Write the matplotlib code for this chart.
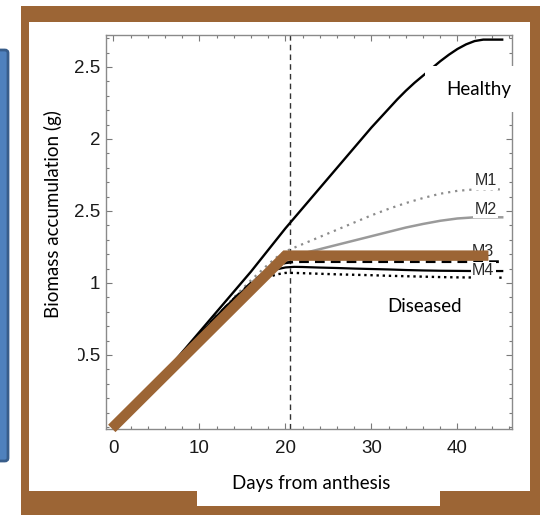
import numpy as np
import matplotlib
matplotlib.use("Agg")
import matplotlib.pyplot as plt
from matplotlib.patches import Rectangle, FancyBboxPatch
from matplotlib.ticker import MultipleLocator, FixedLocator, FixedFormatter

# ---- data -------------------------------------------------------------
healthy_days = [0, 2, 4, 6, 8, 10, 12, 14, 16, 18, 20, 22, 24, 26, 28, 30, 32,
                33, 34, 35, 36, 37, 38, 39, 40, 41, 42, 43, 45.2]
healthy = [0, 0.12, 0.25, 0.38, 0.52, 0.66, 0.80, 0.94, 1.08, 1.23, 1.38, 1.52,
           1.66, 1.80, 1.94, 2.08, 2.21, 2.275, 2.335, 2.39, 2.44, 2.49, 2.54,
           2.585, 2.625, 2.657, 2.68, 2.69, 2.69]

diseased_days = [0, 2, 4, 6, 8, 10, 12, 14, 16, 18, 19, 20, 21, 22, 24, 26, 28,
                 30, 32, 34, 36, 38, 40, 42, 45.2]
m1 = [0, 0.12, 0.25, 0.38, 0.51, 0.64, 0.77, 0.90, 1.02, 1.13, 1.18, 1.22, 1.245,
      1.27, 1.32, 1.37, 1.42, 1.47, 1.515, 1.555, 1.59, 1.62, 1.64, 1.65, 1.65]
m2 = [0, 0.12, 0.25, 0.38, 0.51, 0.64, 0.77, 0.89, 1.0, 1.10, 1.14, 1.17, 1.19,
      1.205, 1.235, 1.265, 1.295, 1.325, 1.355, 1.385, 1.41, 1.432, 1.448,
      1.456, 1.456]
m3 = [0, 0.12, 0.25, 0.38, 0.51, 0.64, 0.77, 0.89, 1.0, 1.09, 1.125, 1.14,
      1.147, 1.148, 1.148, 1.148, 1.148, 1.148, 1.148, 1.148, 1.148, 1.148,
      1.148, 1.148, 1.148]
m4 = [0, 0.12, 0.25, 0.38, 0.51, 0.64, 0.77, 0.89, 0.99, 1.07, 1.095, 1.108,
      1.112, 1.111, 1.107, 1.104, 1.10, 1.097, 1.094, 1.09, 1.087, 1.085,
      1.084, 1.083, 1.083]
m4_low = [0, 0.12, 0.25, 0.38, 0.51, 0.63, 0.76, 0.88, 0.98, 1.04, 1.06, 1.07,
          1.07, 1.068, 1.064, 1.06, 1.057, 1.054, 1.05, 1.047, 1.044, 1.041,
          1.039, 1.038, 1.037]

# simplified two-phase model drawn over the curves
model_days = [-0.2, 20.0, 43.6]
model_biomass = [-0.01, 1.19, 1.19]

cutoff_day = 20.5

x_ticks = [0, 10, 20, 30, 40]
x_tick_labels = ["0", "10", "20", "30", "40"]
y_ticks = [0.5, 1.0, 1.5, 2.0, 2.5]
y_tick_labels = ["0.5", "1", "2.5", "2", "2.5"]

series_labels = ["M1", "M2", "M3", "M4"]
series_label_pos = [(43.3, 1.71), (43.3, 1.51), (42.9, 1.22), (43.0, 1.087)]

# ---- figure -----------------------------------------------------------
W, H = 540, 515
fig = plt.figure(figsize=(W / 100, H / 100), dpi=100)
fig.patch.set_facecolor("white")

BROWN = "#9c6535"


def fx(px):
    return px / W


def fy(py):
    return 1 - py / H


def frect(x0, y0, x1, y1, **kw):
    r = Rectangle((fx(x0), fy(y1)), fx(x1) - fx(x0), fy(y0) - fy(y1),
                  transform=fig.transFigure, **kw)
    fig.add_artist(r)
    return r


# blue side panel
blue = FancyBboxPatch((fx(-20), fy(461)), fx(28), fy(50) - fy(461),
                      boxstyle="round,pad=0,rounding_size=0.006",
                      transform=fig.transFigure, facecolor="#4f81bd",
                      edgecolor="#385d8a", linewidth=2, zorder=-3)
fig.add_artist(blue)

# brown frame with white inner panel and white caption tab
frect(20.7, 6, 545, 520, facecolor=BROWN, edgecolor="none", zorder=-3)
frect(28.5, 21.5, 530, 491, facecolor="white", edgecolor="none", zorder=-2)
frect(196.5, 470, 440, 506, facecolor="white", edgecolor="none", zorder=-2)

# plot area
ax = fig.add_axes([fx(106), fy(429.3), fx(512) - fx(106), fy(35) - fy(429.3)])
ax.set_facecolor("none")
ax.set_xlim(-0.872, 46.34)
ax.set_ylim(-0.016, 2.722)

for s in ax.spines.values():
    s.set_color("#8a8a8a")
    s.set_linewidth(1.0)

ax.xaxis.set_major_locator(FixedLocator(x_ticks))
ax.xaxis.set_major_formatter(FixedFormatter(x_tick_labels))
ax.xaxis.set_minor_locator(MultipleLocator(2))
ax.yaxis.set_major_locator(FixedLocator(y_ticks))
ax.yaxis.set_major_formatter(FixedFormatter(y_tick_labels))
ax.yaxis.set_minor_locator(MultipleLocator(0.1))
ax.tick_params(which="both", direction="in", top=True, right=True,
               color="#7a7a7a", width=0.8)
ax.tick_params(which="major", length=4.5)
ax.tick_params(which="minor", length=2.2)
ax.tick_params(axis="x", which="major", pad=8, labelsize=13.5,
               labelcolor="#1a1a1a")
ax.tick_params(axis="y", which="major", pad=4, labelsize=13.5,
               labelcolor="#1a1a1a")
for lab in ax.get_xticklabels() + ax.get_yticklabels():
    lab.set_family("Liberation Sans")

ax.axvline(cutoff_day, color="#333333", lw=1.0, ls=(0, (4, 3)), zorder=1)

ax.plot(healthy_days, healthy, color="black", lw=1.7, zorder=3)
ax.plot(diseased_days, m1, color="#8c8c8c", lw=1.6, ls=(0, (1, 2.2)), zorder=2)
ax.plot(diseased_days, m2, color="#9a9a9a", lw=1.8, zorder=2)
ax.plot(diseased_days, m3, color="black", lw=2.0, ls=(0, (3.5, 2.2)), zorder=2)
ax.plot(diseased_days, m4, color="black", lw=1.6, zorder=2)
ax.plot(diseased_days, m4_low, color="black", lw=1.7, ls=(0, (1, 1.6)),
        zorder=2)

for lab, (lx, ly) in zip(series_labels, series_label_pos):
    ax.text(lx, ly, lab, ha="center", va="center", fontsize=11.5,
            family="Liberation Sans", color="#2a2a2a", zorder=4,
            bbox=dict(facecolor="white", edgecolor="none", pad=1.0))

ax.plot(model_days, model_biomass, color=BROWN, lw=7.5, zorder=10,
        solid_capstyle="butt", solid_joinstyle="miter", clip_on=False)

# white patches laid over the frame, and the annotations
frect(60, 345, 77.5, 367, facecolor="white", edgecolor="none", zorder=5)
frect(424.5, 66, 520, 112, facecolor="white", edgecolor="none", zorder=5)

fig.text(fx(479), fy(90), "Healthy", ha="center", va="center", fontsize=13.5,
         family="Lato", color="black", zorder=6)
fig.text(fx(425), fy(307), "Diseased", ha="center", va="center", fontsize=13.5,
         family="Lato", color="black", zorder=6)
fig.text(fx(311.5), fy(484), "Days from anthesis", ha="center", va="center",
         fontsize=13.5, family="Lato", color="black", zorder=6)
fig.text(fx(53), fy(214), "Biomass accumulation (g)", ha="center",
         va="center", rotation=90, fontsize=13.5, family="Lato",
         color="black", zorder=6)

fig.savefig("out.png", dpi=100)
